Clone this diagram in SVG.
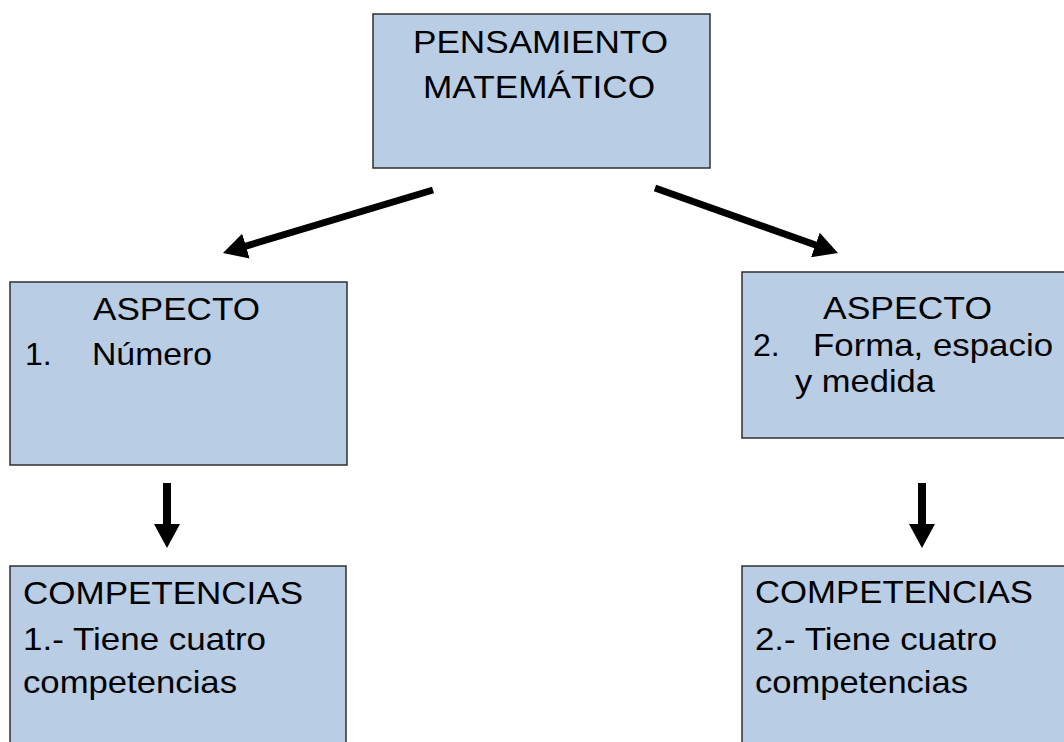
<svg xmlns="http://www.w3.org/2000/svg" width="1064" height="742" viewBox="0 0 1064 742">
  <style>
    .box { fill: #B9CDE5; stroke: #2f2f2f; stroke-width: 1.5; }
    .t { font-family: "Liberation Sans", Arial, sans-serif; font-size: 32px; fill: #000; }
    .conn { stroke: #000; fill: none; }
  </style>
  <defs>
    <marker id="head" viewBox="0 0 24 26" refX="1" refY="13" markerWidth="24" markerHeight="26" markerUnits="userSpaceOnUse" orient="auto">
      <path d="M0,0 L24,13 L0,26 z" fill="#000"/>
    </marker>
  </defs>
  <rect x="0" y="0" width="1064" height="742" fill="#fff"/>

  <g id="connectors">
    <line class="conn" x1="433" y1="190" x2="245" y2="246.4" stroke-width="7" marker-end="url(#head)"/>
    <line class="conn" x1="655" y1="188" x2="816.3" y2="245.3" stroke-width="7" marker-end="url(#head)"/>
    <line class="conn" x1="167" y1="483" x2="167" y2="525" stroke-width="8" marker-end="url(#head)"/>
    <line class="conn" x1="922" y1="483" x2="922" y2="525" stroke-width="8" marker-end="url(#head)"/>
  </g>

  <g id="pensamiento">
    <rect class="box" x="373" y="14" width="337" height="154"/>
    <text class="t" x="413" y="53" textLength="255" lengthAdjust="spacingAndGlyphs">PENSAMIENTO</text>
    <text class="t" x="423" y="98" textLength="232" lengthAdjust="spacingAndGlyphs">MATEMÁTICO</text>
  </g>

  <g id="aspecto1">
    <rect class="box" x="10" y="282" width="337" height="183"/>
    <text class="t" x="93" y="320" textLength="167" lengthAdjust="spacingAndGlyphs">ASPECTO</text>
    <text class="t" x="25" y="365">1.</text>
    <text class="t" x="92" y="365" textLength="120" lengthAdjust="spacingAndGlyphs">Número</text>
  </g>

  <g id="aspecto2">
    <rect class="box" x="742" y="272" width="330" height="166"/>
    <text class="t" x="823" y="319" textLength="169" lengthAdjust="spacingAndGlyphs">ASPECTO</text>
    <text class="t" x="753" y="356">2.</text>
    <text class="t" x="813" y="356" textLength="240" lengthAdjust="spacingAndGlyphs">Forma, espacio</text>
    <text class="t" x="795" y="392" textLength="140" lengthAdjust="spacingAndGlyphs">y medida</text>
  </g>

  <g id="competencias1">
    <rect class="box" x="10" y="566" width="336" height="185"/>
    <text class="t" x="23" y="604" textLength="280" lengthAdjust="spacingAndGlyphs">COMPETENCIAS</text>
    <text class="t" x="23" y="650" textLength="243" lengthAdjust="spacingAndGlyphs">1.- Tiene cuatro</text>
    <text class="t" x="23" y="693" textLength="214" lengthAdjust="spacingAndGlyphs">competencias</text>
  </g>

  <g id="competencias2">
    <rect class="box" x="742" y="566" width="330" height="185"/>
    <text class="t" x="755" y="603" textLength="278" lengthAdjust="spacingAndGlyphs">COMPETENCIAS</text>
    <text class="t" x="755" y="650" textLength="242" lengthAdjust="spacingAndGlyphs">2.- Tiene cuatro</text>
    <text class="t" x="755" y="693" textLength="213" lengthAdjust="spacingAndGlyphs">competencias</text>
  </g>
</svg>
